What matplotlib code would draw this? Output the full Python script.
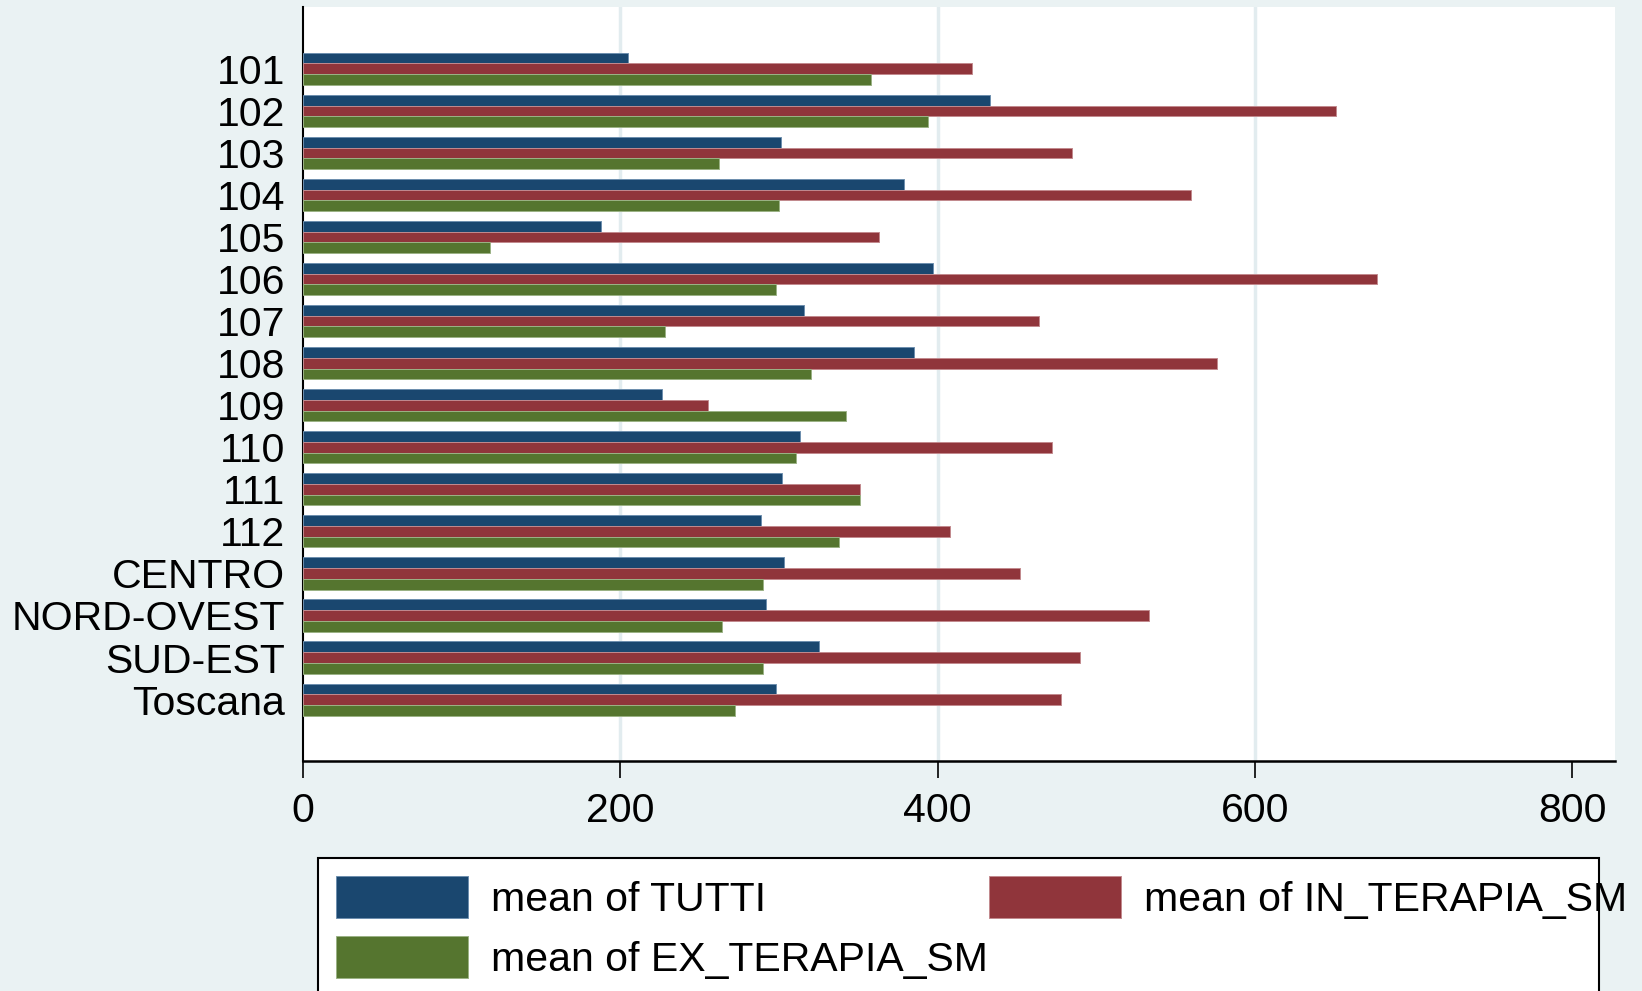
import matplotlib
matplotlib.use("Agg")
import matplotlib.pyplot as plt
from matplotlib.patches import Rectangle
import numpy as np

# values
categories = ["101", "102", "103", "104", "105", "106", "107", "108", "109",
              "110", "111", "112", "CENTRO", "NORD-OVEST", "SUD-EST", "Toscana"]
tutti = [205, 433, 301, 379, 188, 397, 316, 385, 226, 313, 302, 289, 303, 292, 325, 298]
in_terapia = [422, 651, 485, 560, 363, 677, 464, 576, 255, 472, 351, 408, 452, 533, 490, 478]
ex_terapia = [358, 394, 262, 300, 118, 298, 228, 320, 342, 311, 351, 338, 290, 264, 290, 272]

series_names = ["mean of TUTTI", "mean of IN_TERAPIA_SM", "mean of EX_TERAPIA_SM"]
series_colors = ["#1A476F", "#90353B", "#55752F"]
edge_colors = ["#6E8FAE", "#C28A8E", "#9BB285"]

bg = "#EAF2F3"
W, H = 1642, 991
fs = 29.5

plt.rcParams["font.family"] = ["Liberation Sans", "DejaVu Sans"]
plt.rcParams["font.size"] = fs

fig = plt.figure(figsize=(W / 100, H / 100), dpi=100, facecolor=bg)
ax = fig.add_axes([303 / W, 1 - 761 / H, (1615 - 303) / W, (761 - 7) / H])
ax.set_facecolor("white")

y = np.arange(len(categories))
h = 0.255
for k, vals in enumerate([tutti, in_terapia, ex_terapia]):
    ax.barh(y + (k - 1) * h, vals, height=h, color=series_colors[k],
            edgecolor=edge_colors[k], linewidth=0.7, zorder=3)

ax.set_xlim(0, 827)
ax.set_ylim(len(categories) - 1 + 1.46, -1.47)
ax.set_yticks(y)
ax.set_yticklabels(categories)
ax.set_xticks([0, 200, 400, 600, 800])
ax.tick_params(axis="y", length=0, pad=13)
ax.tick_params(axis="x", length=12, width=1.2, pad=10.5)

for gx in [200, 400, 600]:
    ax.axvline(gx, color="#E2ECEF", linewidth=2.5, zorder=1)

for s in ["top", "right"]:
    ax.spines[s].set_visible(False)
ax.spines["left"].set_linewidth(1.5)
ax.spines["bottom"].set_linewidth(1.8)


def fx(px):
    return px / W


def fy(py):
    return 1 - py / H


# legend box (runs past the bottom edge like in the original)
fig.add_artist(Rectangle((fx(317.5), fy(1010)), fx(1598.5) - fx(317.5), fy(858) - fy(1010),
                         transform=fig.transFigure, facecolor="white",
                         edgecolor="black", linewidth=1.5, zorder=1))

legend_slots = [(336, 897), (989, 897), (336, 957)]
for k, (sx, sy) in enumerate(legend_slots):
    fig.add_artist(Rectangle((fx(sx), fy(sy + 21)), 132 / W, 42 / H,
                             transform=fig.transFigure, facecolor=series_colors[k],
                             edgecolor=edge_colors[k], linewidth=0.7, zorder=2))
    fig.text(fx(sx + 155), fy(sy + 3), series_names[k], ha="left", va="center",
             fontsize=fs, zorder=3)

fig.savefig("out.png", dpi=100, facecolor=bg)
